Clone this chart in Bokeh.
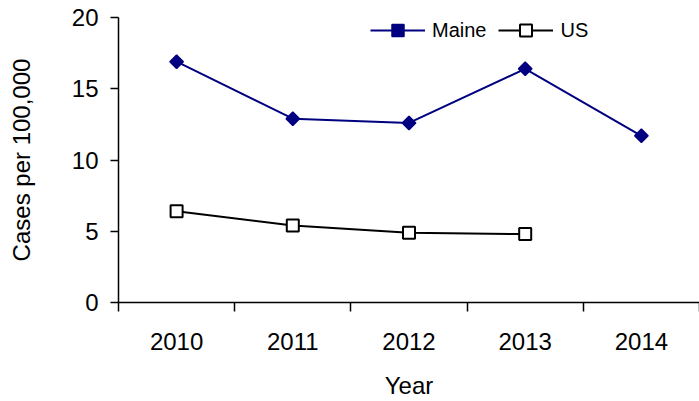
import math
from bokeh.plotting import figure
from bokeh.models import Range1d, FixedTicker, Legend, LegendItem
from bokeh.embed import file_html
from bokeh.resources import INLINE

years = ["2010", "2011", "2012", "2013", "2014"]
maine = [16.9, 12.9, 12.6, 16.4, 11.7]
us = [6.4, 5.4, 4.9, 4.8]
y_ticks = [0, 5, 10, 15, 20]

FONT = "Liberation Sans"

xs_maine = [i + 0.5 for i in range(len(maine))]
xs_us = [i + 0.5 for i in range(len(us))]

p = figure(width=699, height=401, output_backend="svg", toolbar_location=None,
           x_range=Range1d(0, len(years)), y_range=Range1d(0, 20),
           min_border_left=118, min_border_right=0, min_border_top=17,
           min_border_bottom=97)
p.outline_line_color = None
p.grid.visible = False
p.background_fill_color = "white"

l1 = p.line(xs_maine, maine, line_color="#000080", line_width=2)
s1 = p.scatter(xs_maine, maine, marker="square", size=9.5, angle=math.pi / 4,
               fill_color="#000080", line_color="#000080", line_width=1.5)
l2 = p.line(xs_us, us, line_color="black", line_width=2)
s2 = p.scatter(xs_us, us, marker="square", size=12, fill_color="white",
               line_color="black", line_width=2)

# x axis: labels at category centres, tick marks at boundaries
xa = p.xaxis[0]
xa.ticker = FixedTicker(ticks=xs_maine, minor_ticks=list(range(len(years) + 1)))
xa.major_label_overrides = {x: y for x, y in zip(xs_maine, years)}
xa.major_tick_out = 0
xa.major_tick_in = 0
xa.minor_tick_out = 9
xa.minor_tick_in = 0
xa.axis_label = "Year"

ya = p.yaxis[0]
ya.ticker = FixedTicker(ticks=y_ticks, minor_ticks=[])
ya.major_tick_out = 8
ya.major_tick_in = 0
ya.minor_tick_out = 0
ya.minor_tick_in = 0
ya.axis_label = "Cases per 100,000"

for ax in (xa, ya):
    ax.axis_line_color = "black"
    ax.axis_line_width = 1.5
    ax.major_tick_line_color = "black"
    ax.major_tick_line_width = 1.5
    ax.minor_tick_line_color = "black"
    ax.minor_tick_line_width = 1.5
    ax.major_label_text_font = FONT
    ax.major_label_text_font_size = "24px"
    ax.major_label_text_color = "black"
    ax.axis_label_text_font = FONT
    ax.axis_label_text_font_size = "24px"
    ax.axis_label_text_font_style = "normal"
    ax.axis_label_text_color = "black"

xa.major_label_standoff = 21
xa.axis_label_standoff = 19
ya.major_label_standoff = 12
ya.axis_label_standoff = 34

legend = Legend(items=[LegendItem(label="Maine", renderers=[l1, s1]),
                       LegendItem(label="US", renderers=[l2, s2])],
                orientation="horizontal", location=(252, 257),
                label_text_font=FONT, label_text_font_size="20px",
                label_text_color="black", glyph_width=55, glyph_height=30,
                label_standoff=7, spacing=12, padding=0, margin=0,
                border_line_color=None, background_fill_alpha=0,
                label_height=30)
p.add_layout(legend)

open("out.html", "w").write(file_html(p, INLINE))
